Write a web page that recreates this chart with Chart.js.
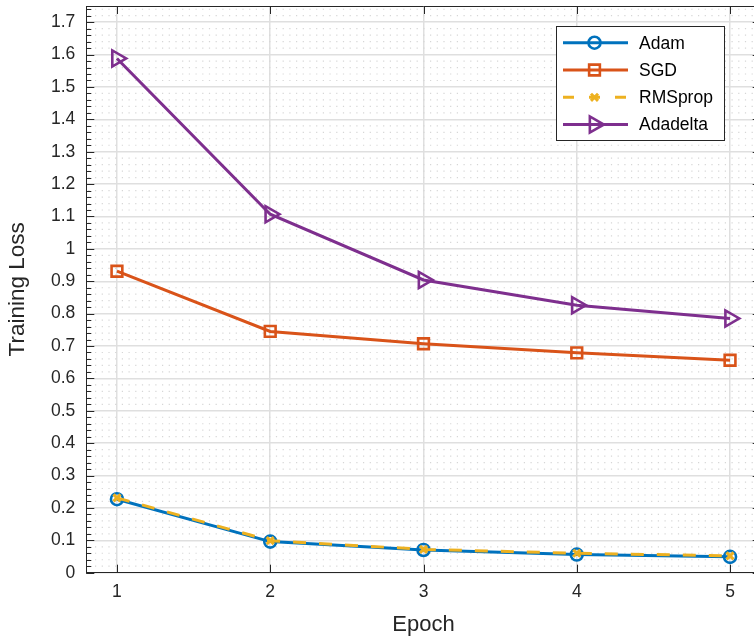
<!DOCTYPE html>
<html><head><meta charset="utf-8">
<script src="https://cdn.jsdelivr.net/npm/chart.js@4.4.1/dist/chart.umd.min.js"></script>
<style>html,body{margin:0;padding:0;background:#fff;overflow:hidden;width:754px;height:642px}canvas{display:block}</style>
</head><body>
<canvas id="c" width="762" height="642" style="width:762px;height:642px"></canvas>
<script>
// ---- data ----
const epochs = [1, 2, 3, 4, 5];
const adamLoss = [0.227, 0.096, 0.070, 0.056, 0.049];
const sgdLoss = [0.931, 0.745, 0.707, 0.679, 0.656];
const rmspropLoss = [0.231, 0.099, 0.072, 0.060, 0.052];
const adadeltaLoss = [1.588, 1.107, 0.904, 0.826, 0.785];
const seriesNames = ['Adam', 'SGD', 'RMSprop', 'Adadelta'];
const xTickValues = [1, 2, 3, 4, 5];
const yTickValues = [0, 0.1, 0.2, 0.3, 0.4, 0.5, 0.6, 0.7, 0.8, 0.9, 1, 1.1, 1.2, 1.3, 1.4, 1.5, 1.6, 1.7];
const xLabel = 'Epoch';
const yLabel = 'Training Loss';

const FONT = "'Liberation Sans', Arial, Helvetica, sans-serif";
const AX = '#262626';
const toPts = arr => epochs.map((e, i) => ({x: e, y: arr[i]}));

function markerPath(ctx, style, r, rot, x, y) {
  ctx.beginPath();
  if (style === 'circle') { ctx.arc(x, y, r, 0, Math.PI * 2); }
  else if (style === 'rect') { const s = Math.SQRT1_2 * r; ctx.rect(x - s, y - s, 2 * s, 2 * s); }
  else if (style === 'crossRot') {
    const d = Math.cos(Math.PI / 4) * r;
    ctx.moveTo(x - d, y - d); ctx.lineTo(x + d, y + d);
    ctx.moveTo(x - d, y + d); ctx.lineTo(x + d, y - d);
  } else if (style === 'triangle') {
    let rad = rot * Math.PI / 180;
    ctx.moveTo(x + Math.sin(rad) * r, y - Math.cos(rad) * r);
    rad += 2 * Math.PI / 3; ctx.lineTo(x + Math.sin(rad) * r, y - Math.cos(rad) * r);
    rad += 2 * Math.PI / 3; ctx.lineTo(x + Math.sin(rad) * r, y - Math.cos(rad) * r);
    ctx.closePath();
  }
}

const axesDecor = {
  id: 'axesDecor',
  beforeDatasetsDraw(chart) {
    const {ctx, chartArea: a, scales: {y}} = chart;
    ctx.save();
    ctx.strokeStyle = '#d6d6d6'; ctx.lineWidth = 1.2; ctx.setLineDash([1.2, 5.5]);
    for (let k = 1; k <= 87; k++) {
      if (k % 5 === 0) continue;
      const py = y.getPixelForValue(k * 0.02);
      ctx.beginPath(); ctx.moveTo(a.left + 2, py); ctx.lineTo(a.right, py); ctx.stroke();
    }
    ctx.restore();
  },
  afterDatasetsDraw(chart) {
    const {ctx, chartArea: a, scales: {x, y}} = chart;
    ctx.save();
    ctx.strokeStyle = AX; ctx.lineWidth = 1;
    ctx.beginPath();
    ctx.moveTo(a.left, a.top + 0.5); ctx.lineTo(a.right, a.top + 0.5);
    ctx.moveTo(a.right - 0.5, a.top); ctx.lineTo(a.right - 0.5, a.bottom);
    ctx.stroke();
    for (let k = 0; k <= 87; k++) {
      const py = Math.round(y.getPixelForValue(k * 0.02)) + 0.5;
      const len = (k % 5 === 0) ? 8 : 5;
      ctx.beginPath();
      ctx.moveTo(a.left, py); ctx.lineTo(a.left + len, py);
      ctx.moveTo(a.right, py); ctx.lineTo(a.right - len, py);
      ctx.stroke();
    }
    xTickValues.forEach(v => {
      const px = Math.round(x.getPixelForValue(v)) + 0.5;
      ctx.beginPath();
      ctx.moveTo(px, a.bottom); ctx.lineTo(px, a.bottom - 8);
      ctx.moveTo(px, a.top); ctx.lineTo(px, a.top + 8);
      ctx.stroke();
    });
    ctx.restore();
  },
  afterDraw(chart) {
    const {ctx} = chart;
    const bx = 556.5, by = 26.5, bw = 168, bh = 114;
    ctx.save();
    ctx.fillStyle = '#fff'; ctx.fillRect(bx, by, bw, bh);
    ctx.strokeStyle = AX; ctx.lineWidth = 1; ctx.strokeRect(bx, by, bw, bh);
    const rowY = [42.7, 70, 97.3, 124.5];
    chart.data.datasets.forEach((ds, i) => {
      const yy = rowY[i];
      ctx.strokeStyle = ds.borderColor; ctx.lineWidth = ds.borderWidth;
      ctx.setLineDash(ds.borderDash ? [11, 15] : []);
      ctx.beginPath(); ctx.moveTo(563, yy); ctx.lineTo(628, yy); ctx.stroke();
      ctx.setLineDash([]);
      ctx.lineWidth = ds.pointBorderWidth;
      markerPath(ctx, ds.pointStyle, ds.pointRadius, ds.pointRotation || 0, 594.5, yy);
      ctx.stroke();
      ctx.fillStyle = '#000';
      ctx.font = '17.5px ' + FONT;
      ctx.textBaseline = 'middle'; ctx.textAlign = 'left';
      ctx.fillText(ds.label, 639, yy + 1);
    });
    ctx.restore();
  }
};

new Chart(document.getElementById('c'), {
  type: 'line',
  data: {
    datasets: [
      {label: seriesNames[0], data: toPts(adamLoss), borderColor: '#0072BD', borderWidth: 3,
       pointStyle: 'circle', pointRadius: 6, pointBorderWidth: 2.6, pointBackgroundColor: 'rgba(0,0,0,0)', pointBorderColor: '#0072BD', order: 4},
      {label: seriesNames[1], data: toPts(sgdLoss), borderColor: '#D95319', borderWidth: 3,
       pointStyle: 'rect', pointRadius: 7.6, pointBorderWidth: 2.6, pointBackgroundColor: 'rgba(0,0,0,0)', pointBorderColor: '#D95319', order: 3},
      {label: seriesNames[2], data: toPts(rmspropLoss), borderColor: '#EDB120', borderWidth: 3, borderDash: [13, 13],
       pointStyle: 'crossRot', pointRadius: 5, pointBorderWidth: 3, pointBackgroundColor: 'rgba(0,0,0,0)', pointBorderColor: '#EDB120', order: 2},
      {label: seriesNames[3], data: toPts(adadeltaLoss), borderColor: '#7E2F8E', borderWidth: 3,
       pointStyle: 'triangle', pointRotation: 90, pointRadius: 9.3, pointBorderWidth: 2.6, pointBackgroundColor: 'rgba(0,0,0,0)', pointBorderColor: '#7E2F8E', order: 1}
    ]
  },
  options: {
    responsive: false, animation: false, devicePixelRatio: 1,
    layout: {autoPadding: false, padding: {top: 6, right: 1.3, left: 0, bottom: 0}},
    elements: {line: {tension: 0, fill: false}},
    plugins: {legend: {display: false}, tooltip: {enabled: false}},
    scales: {
      x: {
        type: 'linear', min: 0.8, max: 5.2,
        afterBuildTicks: s => { s.ticks = xTickValues.map(v => ({value: v})); },
        afterFit: s => { s.height = 69.3; s.paddingLeft = 0; s.paddingRight = 0; s.paddingTop = 0; s.paddingBottom = 0; },
        grid: {color: '#dfdfdf', lineWidth: 1.5, drawTicks: false},
        border: {color: AX, width: 1},
        ticks: {padding: 9, autoSkip: false, maxRotation: 0, color: AX, font: {family: FONT, size: 17.5}, callback: v => String(v)},
        title: {display: true, text: xLabel, color: AX, font: {family: FONT, size: 22}, padding: {top: 0, bottom: 4}}
      },
      y: {
        type: 'linear', min: 0, max: 1.75,
        afterBuildTicks: s => { s.ticks = yTickValues.map(v => ({value: v})); },
        afterFit: s => { s.width = 86.3; s.paddingLeft = 0; s.paddingRight = 0; s.paddingTop = 0; s.paddingBottom = 0; },
        grid: {color: '#dfdfdf', lineWidth: 1.5, drawTicks: false},
        border: {color: AX, width: 1},
        ticks: {padding: 11, autoSkip: false, color: AX, font: {family: FONT, size: 17.5}, callback: v => String(Math.round(v * 10) / 10)},
        title: {display: true, text: yLabel, color: AX, font: {family: FONT, size: 22.5}, padding: {top: 4, bottom: 0}}
      }
    }
  },
  plugins: [axesDecor]
});
</script>
</body></html>
